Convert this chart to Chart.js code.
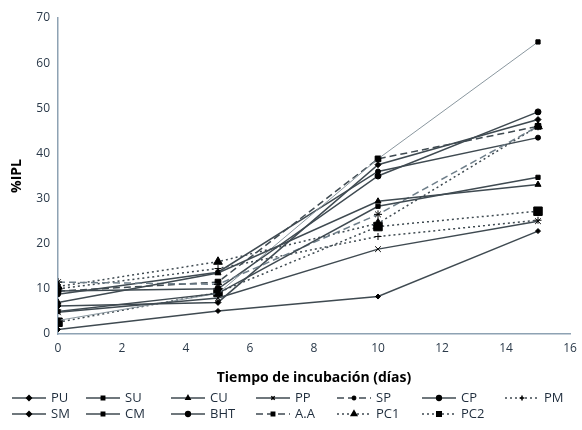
<!DOCTYPE html>
<html>
<head>
<meta charset="utf-8">
<script src="https://cdn.jsdelivr.net/npm/chart.js@4.4.1/dist/chart.umd.min.js"></script>
<style>
  html, body { margin: 0; padding: 0; background: #fff; }
  #wrap { width: 582px; height: 430px; }
</style>
</head>
<body>
<div id="wrap"><canvas id="ipl" width="582" height="430"></canvas></div>
<script>
// incubation days
const days = [0, 5, 10, 15];
const yTicks = [0, 10, 20, 30, 40, 50, 60, 70];

// %IPL per sample
const PU  = [1.0, 5.1, 8.3, 22.8];
const SU  = [5.0, 9.0, 28.3, 34.7];
const CU  = [7.0, 13.5, 29.4, 33.1];
const PP  = [4.8, 8.0, 18.8, 25.0];
const SP  = [11.5, 11.0, 26.5, 46.0];
const CP  = [9.5, 10.0, 35.0, 49.2];
const PM  = [10.0, 14.5, 21.6, 25.2];
const SM  = [6.2, 7.0, 37.5, 47.5];
const CM  = [3.0, 9.0, 38.8, 64.7];
const BHT = [8.8, 13.7, 36.0, 43.5];
const AA  = [9.5, 11.5, 38.8, 46.0];
const PC1 = [10.5, 16.0, 24.5, 46.0];
const PC2 = [2.6, 9.2, 23.8, 27.2];

const dark = '#3f4a51';
const light = '#6f7f8a';

const series = [
    { label: 'PU',  data: PU,  point: 'rectRot',  r: 2.5, dash: [],     color: dark },
    { label: 'SU',  data: SU,  point: 'rect',     r: 3,   dash: [],     color: dark },
    { label: 'CU',  data: CU,  point: 'triangle', r: 3.5, dash: [],     color: dark },
    { label: 'PP',  data: PP,  point: 'crossRot', r: 4,   dash: [],     color: dark },
    { label: 'SP',  data: SP,  point: 'star',     r: 4,   dash: [7, 4], color: light },
    { label: 'CP',  data: CP,  point: 'circle',   r: 3,   dash: [],     color: dark },
    { label: 'PM',  data: PM,  point: 'cross',    r: 3.5, dash: [2, 3], color: dark },
    { label: 'SM',  data: SM,  point: 'rectRot',  r: 3,   dash: [],     color: dark },
    { label: 'CM',  data: CM,  point: 'rect',     r: 3,   dash: [],     color: '#8a979f', width: 1 },
    { label: 'BHT', data: BHT, point: 'circle',   r: 2.5, dash: [],     color: dark },
    { label: 'A.A', data: AA,  point: 'rect',     r: 4,   dash: [7, 4], color: dark },
    { label: 'PC1', data: PC1, point: 'triangle', r: 5,   dash: [2, 3], color: dark },
    { label: 'PC2', data: PC2, point: 'rect',     r: 6,   dash: [2, 3], color: dark }
];

const datasets = series.map(s => ({
    label: s.label,
    data: s.data.map((v, i) => ({ x: days[i], y: v })),
    borderColor: s.color,
    backgroundColor: '#000',
    pointBorderColor: '#000',
    pointBackgroundColor: '#000',
    borderWidth: s.width || 1.5,
    borderDash: s.dash,
    pointStyle: s.point,
    pointRadius: s.r,
    pointBorderWidth: 1,
    tension: 0
}));

// legend laid out in fixed columns, like the original
const gridLegend = {
    id: 'gridLegend',
    afterDraw(chart) {
        const ctx = chart.ctx;
        const cols = [12, 86, 171, 256, 337, 422, 505];
        const rows = [398, 414];
        ctx.save();
        ctx.font = '13px "Open Sans", sans-serif';
        ctx.textBaseline = 'middle';
        chart.data.datasets.forEach((ds, i) => {
            const x0 = cols[i % 7];
            const y = rows[Math.floor(i / 7)];
            ctx.strokeStyle = dark;
            ctx.lineWidth = 1.5;
            ctx.setLineDash(ds.borderDash);
            ctx.beginPath();
            ctx.moveTo(x0, y);
            ctx.lineTo(x0 + 34, y);
            ctx.stroke();
            ctx.setLineDash([]);
            ctx.fillStyle = '#000';
            ctx.strokeStyle = '#000';
            Chart.helpers.drawPoint(ctx, {
                pointStyle: ds.pointStyle,
                radius: ds.pointRadius > 4 ? 3.2 : 2.4,
                borderWidth: 1,
                rotation: 0
            }, x0 + 17, y);
            ctx.fillStyle = '#1f2d3d';
            ctx.fillText(ds.label, x0 + 39, y);
        });
        ctx.restore();
    }
};

const ctx = document.getElementById('ipl').getContext('2d');
new Chart(ctx, {
    type: 'line',
    data: { datasets: datasets },
    options: {
        responsive: false,
        animation: false,
        layout: { padding: { top: 18, right: 12, bottom: 44, left: 4 } },
        plugins: {
            legend: { display: false },
            tooltip: { enabled: false }
        },
        scales: {
            x: {
                type: 'linear',
                min: 0,
                max: 16,
                ticks: { stepSize: 2, color: '#2b3a4a', font: { size: 12, family: '"Open Sans", sans-serif' }, padding: 2 },
                grid: { display: false, drawTicks: true, tickLength: 5, tickColor: '#8ea2b3' },
                border: { color: '#8ea2b3', width: 1.5 },
                title: {
                    display: true,
                    text: 'Tiempo de incubación (días)',
                    color: '#000',
                    font: { size: 14, weight: 'bold', family: '"Open Sans", sans-serif' },
                    padding: { top: 8, bottom: 0 }
                },
                afterFit(scale) { scale.height = 52; }
            },
            y: {
                min: 0,
                max: 70,
                afterBuildTicks(scale) { scale.ticks = yTicks.map(v => ({ value: v })); },
                ticks: { color: '#2b3a4a', font: { size: 12, family: '"Open Sans", sans-serif' }, padding: 4 },
                grid: { display: false, drawTicks: true, tickLength: 4, tickColor: '#8ea2b3' },
                border: { color: '#8ea2b3', width: 1.5 },
                title: {
                    display: true,
                    text: '%IPL',
                    color: '#000',
                    font: { size: 14, weight: 'bold', family: '"Open Sans", sans-serif' },
                    padding: { top: 5, bottom: 0 }
                },
                afterFit(scale) { scale.width = 54; }
            }
        }
    },
    plugins: [gridLegend]
});
</script>
</body>
</html>
